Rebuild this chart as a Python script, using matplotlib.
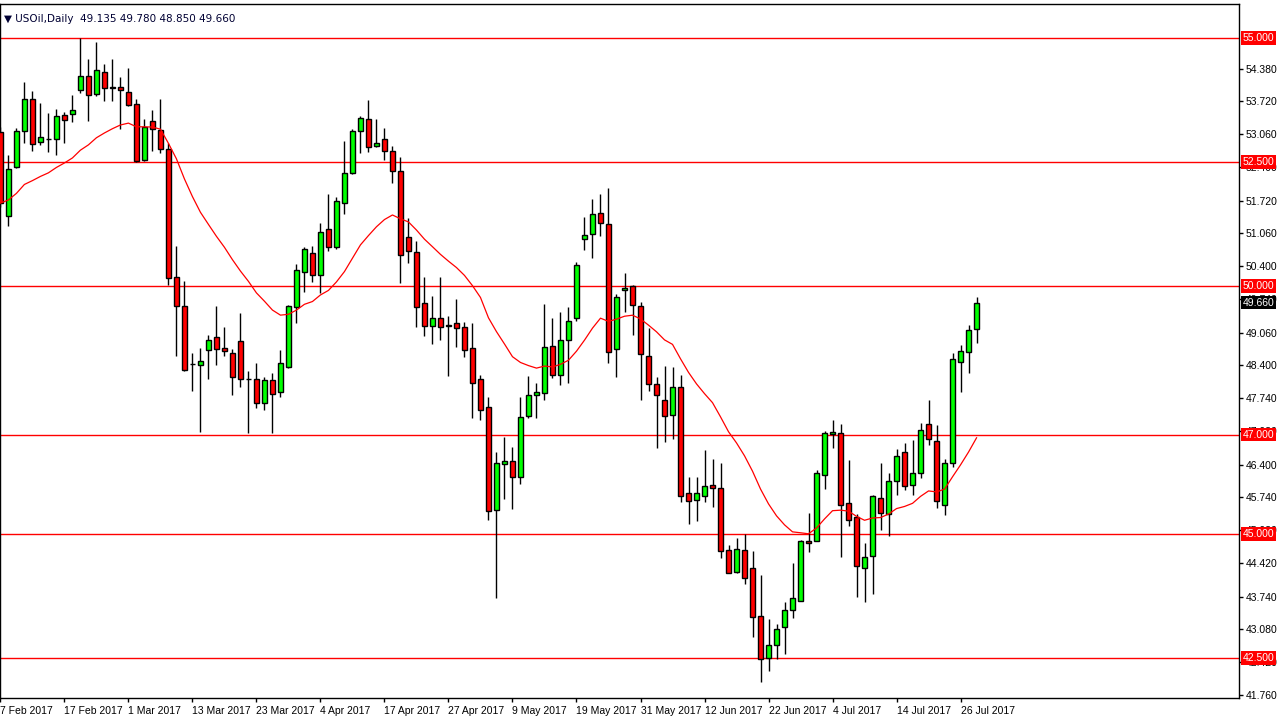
import matplotlib
matplotlib.use("Agg")
import matplotlib.pyplot as plt
import matplotlib.transforms as mtransforms
import numpy as np
import pandas as pd

opens = [53.10,51.41,52.39,53.12,53.76,52.90,52.96,52.97,53.44,53.46,53.96,54.23,53.88,54.31,54.00,54.02,53.92,53.66,52.53,53.32,
         53.14,52.76,50.19,49.59,48.43,48.41,48.70,48.98,48.76,48.64,48.89,48.12,48.12,47.65,48.10,47.86,48.37,49.57,50.29,50.66,
         50.22,51.14,50.78,51.67,52.27,53.12,53.36,52.82,52.96,52.72,52.31,50.98,50.68,49.65,49.19,49.35,49.20,49.25,49.17,48.74,
         48.12,47.57,45.48,46.41,46.47,46.14,47.37,47.80,47.84,48.80,48.20,48.92,49.35,50.94,51.04,51.47,51.24,48.72,49.91,49.99,
         49.59,48.58,48.02,47.70,47.39,47.96,45.82,45.68,45.76,45.98,45.92,44.67,44.23,44.67,44.31,43.34,42.51,42.76,43.12,43.46,
         43.64,44.85,44.85,46.18,47.01,47.03,45.62,45.34,44.31,44.55,45.72,45.40,46.06,46.65,45.98,46.22,47.21,46.87,45.58,46.44,
         48.46,48.66,49.135]
highs = [53.21,52.64,53.18,54.12,53.93,53.68,53.48,53.57,53.51,53.85,54.99,54.58,54.91,54.48,54.58,54.21,54.39,53.76,53.36,53.55,
         53.76,52.88,50.81,50.10,48.64,48.76,49.01,49.60,49.17,48.72,49.45,48.29,48.45,48.17,48.25,48.71,49.62,50.45,50.79,50.81,
         51.26,51.86,51.80,52.92,53.16,53.43,53.75,53.36,53.19,52.83,52.60,51.38,50.90,50.18,49.80,50.18,49.40,49.74,49.28,49.26,
         48.21,47.76,46.65,46.95,46.75,47.76,48.18,48.04,49.63,49.35,49.47,49.57,50.48,51.40,51.75,51.85,51.97,49.83,50.26,50.01,
         49.67,49.15,48.16,48.38,48.36,48.20,46.14,46.14,46.69,46.52,46.43,44.77,44.91,45.01,44.65,44.17,43.28,43.18,43.62,44.41,
         44.87,45.42,46.29,47.07,47.29,47.21,46.49,45.40,44.81,45.78,46.44,46.24,46.71,46.83,46.89,47.23,47.71,47.19,46.51,48.64,
         48.82,49.21,49.78]
lows = [51.60,51.20,52.37,52.88,52.73,52.84,52.71,52.64,52.88,53.31,53.90,53.33,53.84,53.72,53.72,53.16,53.62,52.49,52.51,52.73,
        52.69,50.02,48.58,48.29,47.89,47.06,48.13,48.41,48.58,47.81,47.97,47.03,47.55,47.50,47.04,47.77,48.35,49.25,49.87,50.09,
        49.85,50.71,50.75,51.46,52.26,52.68,52.70,52.80,52.53,52.07,50.07,50.47,49.18,49.00,48.84,48.92,48.19,48.78,48.56,47.33,
        47.29,45.28,43.72,45.70,45.50,46.00,47.33,47.33,47.71,48.14,48.00,48.04,49.29,50.72,50.56,51.00,48.44,48.16,49.48,49.01,
        47.71,47.88,46.73,46.85,46.91,45.64,45.20,45.26,45.64,45.54,44.51,44.21,44.21,44.00,42.92,42.02,42.24,42.49,42.59,43.30,
        43.64,44.63,44.85,45.90,46.73,44.53,45.16,43.74,43.62,43.80,45.09,44.95,45.78,45.88,45.78,46.12,46.79,45.52,45.38,46.36,
        47.86,48.24,48.85]
closes = [51.67,52.35,53.12,53.76,52.86,53.01,52.97,53.42,53.34,53.54,54.23,53.86,54.35,54.00,53.99,53.96,53.64,52.51,53.20,53.16,
          52.76,50.17,49.59,48.31,48.42,48.48,48.92,48.72,48.68,48.16,48.12,48.12,47.65,48.10,47.82,48.44,49.59,50.32,50.74,50.22,
          51.08,50.78,51.71,52.27,53.12,53.38,52.80,52.88,52.72,52.31,50.62,50.70,49.57,49.19,49.35,49.17,49.20,49.15,48.71,48.04,
          47.51,45.46,46.43,46.47,46.14,47.35,47.80,47.86,48.78,48.20,48.92,49.29,50.42,51.02,51.45,51.26,48.66,49.77,49.95,49.61,
          48.62,48.02,47.80,47.37,47.96,45.77,45.66,45.82,45.96,45.92,44.65,44.21,44.69,44.11,43.32,42.49,42.76,43.08,43.46,43.70,
          44.85,44.81,46.24,47.03,47.05,45.58,45.28,44.35,44.53,45.76,45.42,46.06,46.57,45.96,46.22,47.09,46.91,45.66,46.44,48.52,
          48.68,49.11,49.66]
date_labels = ["7 Feb 2017","17 Feb 2017","1 Mar 2017","13 Mar 2017","23 Mar 2017","4 Apr 2017","17 Apr 2017","27 Apr 2017",
               "9 May 2017","19 May 2017","31 May 2017","12 Jun 2017","22 Jun 2017","4 Jul 2017","14 Jul 2017","26 Jul 2017"]
level_lines = [55.0, 52.5, 50.0, 47.0, 45.0, 42.5]
ytick_vals = [41.76,42.42,43.08,43.74,44.42,45.08,45.74,46.40,47.08,47.74,48.40,49.06,49.74,50.40,51.06,51.72,52.40,53.06,53.72,54.38]
ma_span = 20

plt.rcParams['font.family'] = ['Liberation Sans', 'DejaVu Sans']
fig = plt.figure(figsize=(12.78, 7.19), dpi=100)
ax = fig.add_axes([0, 21/719, 1239/1278, (698-4)/719])

n = len(closes)
x = np.arange(n)
o = np.array(opens); c = np.array(closes); h = np.array(highs); l = np.array(lows)
ma = pd.Series(c).ewm(span=ma_span, adjust=False).mean()

for lv in level_lines:
    ax.axhline(lv, color='#ff0000', lw=1, zorder=1)

ax.vlines(x, l, h, color='black', lw=1, zorder=2)
up = c >= o
bw = 0.62
for i in range(n):
    lo, hi = min(o[i], c[i]), max(o[i], c[i])
    ht = max(hi - lo, 0.012)
    ax.add_patch(plt.Rectangle((i - bw/2, lo), bw, ht, facecolor='#00ff00' if up[i] else '#ff0000',
                               edgecolor='black', lw=1, zorder=3))
ax.plot(x, ma, color='#ff0000', lw=0.9, zorder=4)

ax.set_xlim(-0.05, 154.8)
ax.set_ylim(41.694, 55.685)
ax.yaxis.tick_right()
ax.set_yticks(ytick_vals)
ax.set_yticklabels([f"{v:.3f}" for v in ytick_vals])
ax.set_xticks(np.arange(len(date_labels)) * 8)
ax.set_xticklabels(date_labels, ha='left')
ax.tick_params(axis='both', labelsize=7.5, length=3, width=1, color='black', pad=2)
ax.tick_params(axis='x', pad=3)
for s in ax.spines.values():
    s.set_linewidth(1)
    s.set_color('black')

trans = mtransforms.blended_transform_factory(ax.transAxes, ax.transData)
for lv in level_lines:
    ax.text(1.003, lv, f"{lv:.3f}", transform=trans, ha='left', va='center', fontsize=7.5, color='white',
            bbox=dict(boxstyle='square,pad=0.15', fc='#ff0000', ec='none'), clip_on=False, zorder=10)
ax.text(1.003, c[-1], f"{c[-1]:.3f}", transform=trans, ha='left', va='center', fontsize=7.5, color='white',
        bbox=dict(boxstyle='square,pad=0.15', fc='black', ec='none'), clip_on=False, zorder=10)

ax.text(0.003, 0.985, f"\u25BC USOil,Daily  {o[-1]:.3f} {h[-1]:.3f} {l[-1]:.3f} {c[-1]:.3f}",
        transform=ax.transAxes, ha='left', va='top', fontsize=7.5, color='#000033', family=['DejaVu Sans'])

fig.savefig("out.png", dpi=100)
